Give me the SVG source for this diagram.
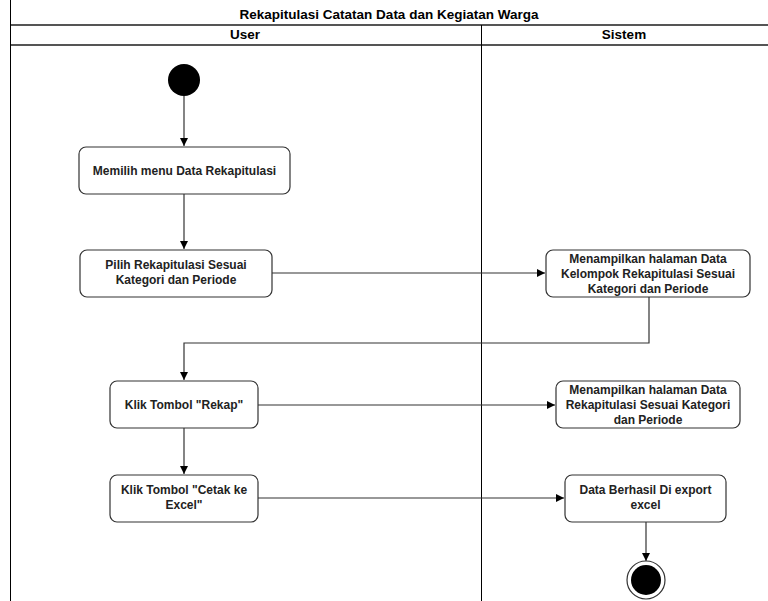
<svg xmlns="http://www.w3.org/2000/svg" width="768" height="601" viewBox="0 0 768 601">
<defs>
<style>
.lane{stroke:#000;stroke-width:1;fill:none}
.hl{stroke:#555;stroke-width:2;fill:none}
.hd{font-family:"Liberation Sans",Arial,sans-serif;font-size:13.5px;font-weight:bold;fill:#000;text-anchor:middle}
.box{fill:#fff;stroke:#333;stroke-width:1.2}
.t{font-family:"Liberation Sans",Arial,sans-serif;font-size:12px;font-weight:bold;fill:#222;text-anchor:middle}
.c{stroke:#333;stroke-width:1.2;fill:none;marker-end:url(#ar)}
</style>
<marker id="ar" viewBox="0 0 10 10" refX="10" refY="5" markerWidth="8" markerHeight="8" markerUnits="userSpaceOnUse" orient="auto">
<path d="M0,0 L10,5 L0,10 z" fill="#000"/>
</marker>
</defs>
<rect width="768" height="601" fill="#fff"/>
<g id="pool">
<text class="hd" x="389" y="19">Rekapitulasi Catatan Data dan Kegiatan Warga</text>
<line class="hl" x1="10" y1="25" x2="768" y2="25"/>
<text class="hd" x="245" y="39">User</text>
<text class="hd" x="624" y="39">Sistem</text>
<line class="hl" x1="10" y1="45" x2="768" y2="45"/>
<line class="lane" x1="10.5" y1="0" x2="10.5" y2="601"/>
<line class="lane" x1="481.5" y1="25" x2="481.5" y2="601"/>
</g>
<g id="connectors">
<path class="c" d="M184,96 V146"/>
<path class="c" d="M184,194 V249"/>
<path class="c" d="M272,273 H545"/>
<path class="c" d="M649,297 V343 H184 V380"/>
<path class="c" d="M258,405 H555"/>
<path class="c" d="M184,428 V474"/>
<path class="c" d="M258,498 H564"/>
<path class="c" d="M646,522 V561"/>
</g>
<g id="start"><circle cx="184" cy="80" r="16" fill="#000"/></g>
<g id="n1">
<rect class="box" x="79" y="147" width="211" height="47" rx="7"/>
<text class="t" x="184.5" y="175">Memilih menu Data Rekapitulasi</text>
</g>
<g id="n2">
<rect class="box" x="80" y="250" width="192" height="47" rx="7"/>
<text class="t" x="176" y="269">Pilih Rekapitulasi Sesuai</text>
<text class="t" x="176" y="284">Kategori dan Periode</text>
</g>
<g id="n3">
<rect class="box" x="546" y="250" width="204" height="47" rx="7"/>
<text class="t" x="648" y="263">Menampilkan halaman Data</text>
<text class="t" x="648" y="278">Kelompok Rekapitulasi Sesuai</text>
<text class="t" x="648" y="293">Kategori dan Periode</text>
</g>
<g id="n4">
<rect class="box" x="110" y="381" width="148" height="47" rx="7"/>
<text class="t" x="184" y="409">Klik Tombol "Rekap"</text>
</g>
<g id="n5">
<rect class="box" x="556" y="381" width="184" height="47" rx="7"/>
<text class="t" x="648" y="394">Menampilkan halaman Data</text>
<text class="t" x="648" y="409">Rekapitulasi Sesuai Kategori</text>
<text class="t" x="648" y="424">dan Periode</text>
</g>
<g id="n6">
<rect class="box" x="110" y="475" width="148" height="47" rx="7"/>
<text class="t" x="184" y="494">Klik Tombol "Cetak ke</text>
<text class="t" x="184" y="509">Excel"</text>
</g>
<g id="n7">
<rect class="box" x="565" y="475" width="161" height="47" rx="7"/>
<text class="t" x="645.5" y="494">Data Berhasil Di export</text>
<text class="t" x="645.5" y="509">excel</text>
</g>
<g id="end">
<circle cx="646" cy="580" r="19" fill="#fff" stroke="#333" stroke-width="1.2"/>
<circle cx="646" cy="580" r="15" fill="#000"/>
</g>
</svg>
